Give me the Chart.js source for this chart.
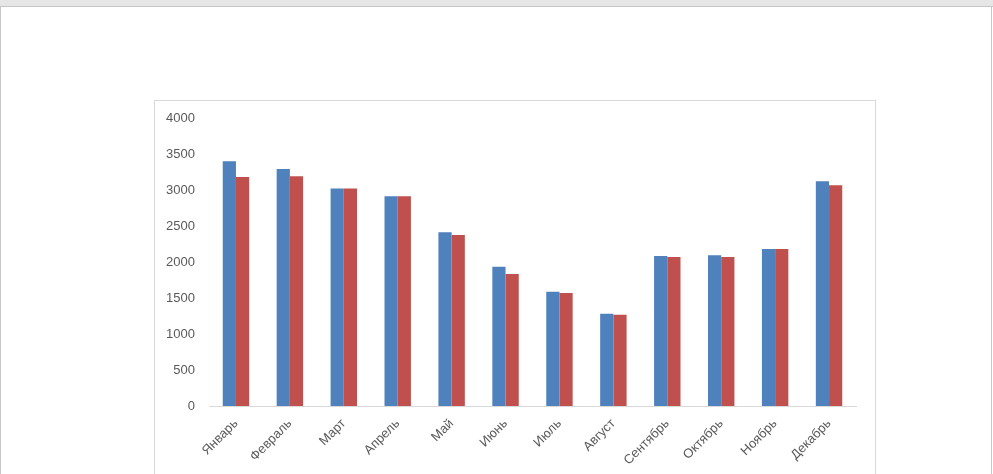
<!DOCTYPE html>
<html>
<head>
<meta charset="utf-8">
<script src="https://cdn.jsdelivr.net/npm/chart.js@4"></script>
<style>
    html, body {
        margin: 0;
        padding: 0;
        width: 993px;
        height: 474px;
        overflow: hidden;
        background: #ffffff;
    }
    #polosa {
        position: absolute;
        left: 0;
        top: 0;
        width: 993px;
        height: 6px;
        background: #e6e6e6;
        border-bottom: 1px solid #c6c6c6;
    }
    #list {
        position: absolute;
        left: 0;
        top: 7px;
        width: 990px;
        height: 480px;
        border-left: 1px solid #c8c8c8;
        border-right: 1px solid #c8c8c8;
    }
    #ramka {
        position: absolute;
        left: 154px;
        top: 100px;
        width: 720px;
        height: 420px;
        border: 1px solid #d9d9d9;
        background: #ffffff;
        overflow: hidden;
    }
    #grafik {
        display: block;
        margin-top: -4px;
    }
</style>
</head>
<body>
<div id="polosa"></div>
<div id="list"></div>
<div id="ramka"><canvas id="grafik" width="720" height="420"></canvas></div>
<script>
const mesyatsy = ['Январь', 'Февраль', 'Март', 'Апрель', 'Май', 'Июнь', 'Июль', 'Август', 'Сентябрь', 'Октябрь', 'Ноябрь', 'Декабрь'];
const ryad1 = [3410, 3300, 3030, 2920, 2420, 1940, 1590, 1285, 2090, 2100, 2185, 3130];
const ryad2 = [3190, 3200, 3030, 2920, 2380, 1840, 1575, 1270, 2075, 2075, 2185, 3075];
const tsvetSiniy = '#4f81bd';
const tsvetKrasniy = '#c0504d';

const shrift = { family: "'Liberation Sans', Arial, sans-serif", size: 13 };

new Chart(document.getElementById('grafik'), {
    type: 'bar',
    data: {
        labels: mesyatsy,
        datasets: [{
            label: 'Ряд1',
            data: ryad1,
            backgroundColor: tsvetSiniy,
            categoryPercentage: 0.49,
            barPercentage: 1
        }, {
            label: 'Ряд2',
            data: ryad2,
            backgroundColor: tsvetKrasniy,
            categoryPercentage: 0.49,
            barPercentage: 1
        }]
    },
    options: {
        responsive: false,
        animation: false,
        layout: {
            // верхний отступ всё равно не меньше отступа подписей оси Y (~20px)
            padding: { top: 16, right: 19, left: 0, bottom: 0 }
        },
        plugins: {
            legend: { display: false },
            tooltip: { enabled: false }
        },
        scales: {
            y: {
                min: 0,
                max: 4000,
                ticks: {
                    stepSize: 500,
                    color: '#595959',
                    font: shrift,
                    padding: 14,
                    callback(znachenie) {
                        return String(znachenie);
                    }
                },
                grid: { display: false, drawTicks: false },
                border: { display: false },
                afterFit(shkala) {
                    shkala.width = 54;
                }
            },
            x: {
                ticks: {
                    color: '#595959',
                    font: shrift,
                    minRotation: 45,
                    maxRotation: 45,
                    padding: 10,
                    autoSkip: false
                },
                grid: { display: false, drawTicks: false },
                border: { display: true, color: '#d9d9d9', width: 1 },
                afterFit(shkala) {
                    shkala.height = 111;
                }
            }
        }
    }
});
</script>
</body>
</html>
